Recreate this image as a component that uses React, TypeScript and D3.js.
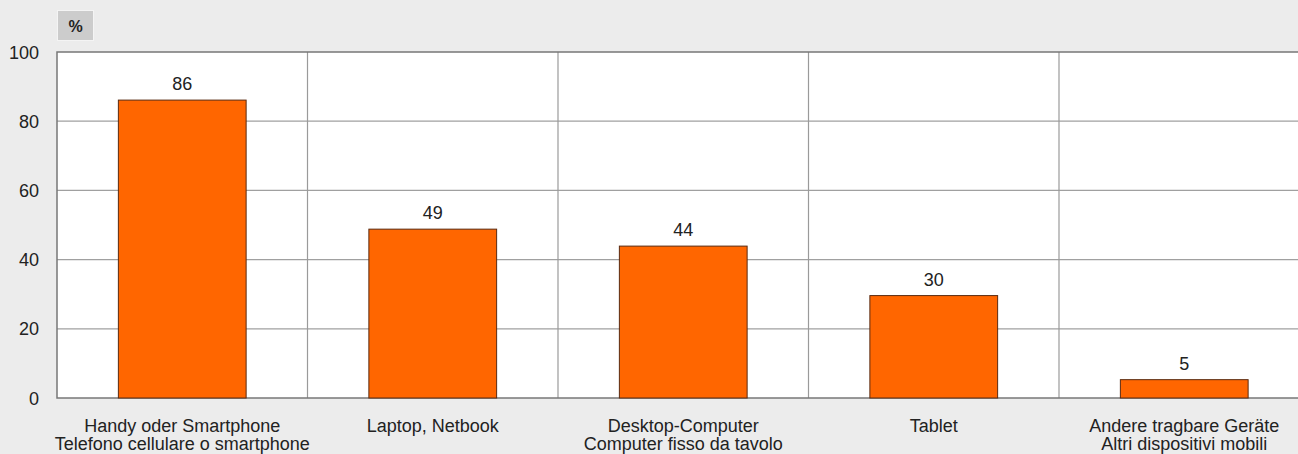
import React from "react";
import * as d3 from "d3";

const categoriesDe = ["Handy oder Smartphone", "Laptop, Netbook", "Desktop-Computer", "Tablet", "Andere tragbare Geräte"];
const categoriesIt = ["Telefono cellulare o smartphone", "", "Computer fisso da tavolo", "", "Altri dispositivi mobili"];
const values = [86.1, 48.8, 43.9, 29.6, 5.3];
const yTicks = [0, 20, 40, 60, 80, 100];

const W = 1298;
const H = 454;
const left = 57;
const right = 1309.5;
const top = 52;
const bottom = 398;
const FONT = "'Liberation Sans', Arial, Helvetica, sans-serif";

export default function App() {
  const x = d3.scaleBand<number>().domain(values.map((_, i) => i)).range([left, right]).padding(0);
  const y = d3.scaleLinear().domain([0, 100]).range([bottom, top]);
  const bw = x.bandwidth();
  const barW = bw * 0.51;

  return (
    <svg width={W} height={H} style={{ position: "absolute", left: 0, top: 0, display: "block" }}>
      <rect x={0} y={0} width={W} height={H} fill="#ececec" />
      {/* % box */}
      <rect x={57.5} y={10.5} width={36} height={30} fill="#cccccc" stroke="#f4f4f4" strokeWidth={1} />
      <text x={75.5} y={32} textAnchor="middle" fontFamily={FONT} fontSize={16} fontWeight="bold" fill="#222">%</text>
      {/* plot area */}
      <rect x={left} y={top} width={right - left} height={bottom - top} fill="#ffffff" />
      {yTicks.filter((t) => t > 0 && t < 100).map((t) => (
        <line key={t} x1={left} x2={right} y1={y(t)} y2={y(t)} stroke="#a0a0a0" strokeWidth={1.2} />
      ))}
      {values.map((_, i) => i > 0 ? (
        <line key={i} x1={x(i)!} x2={x(i)!} y1={top} y2={bottom} stroke="#9a9a9a" strokeWidth={1.2} />
      ) : null)}
      <rect x={left} y={top} width={right - left} height={bottom - top} fill="none" stroke="#777" strokeWidth={1.5} />
      {values.map((v, i) => {
        const bx = x(i)! + (bw - barW) / 2;
        return (
          <g key={i}>
            <rect x={bx} y={y(v)} width={barW} height={bottom - y(v)} fill="#ff6600" stroke="#5a2a10" strokeWidth={1} />
            <text x={x(i)! + bw / 2} y={y(v) - 10} textAnchor="middle" fontFamily={FONT} fontSize={18} fill="#222">{Math.round(v)}</text>
          </g>
        );
      })}
      {yTicks.map((t) => (
        <text key={t} x={39} y={y(t) + 6.5} textAnchor="end" fontFamily={FONT} fontSize={18} fill="#222">{t}</text>
      ))}
      {values.map((_, i) => (
        <text key={i} x={x(i)! + bw / 2} textAnchor="middle" fontFamily={FONT} fontSize={18} fill="#222">
          <tspan x={x(i)! + bw / 2} y={432}>{categoriesDe[i]}</tspan>
          {categoriesIt[i] ? <tspan x={x(i)! + bw / 2} y={450}>{categoriesIt[i]}</tspan> : null}
        </text>
      ))}
    </svg>
  );
}
